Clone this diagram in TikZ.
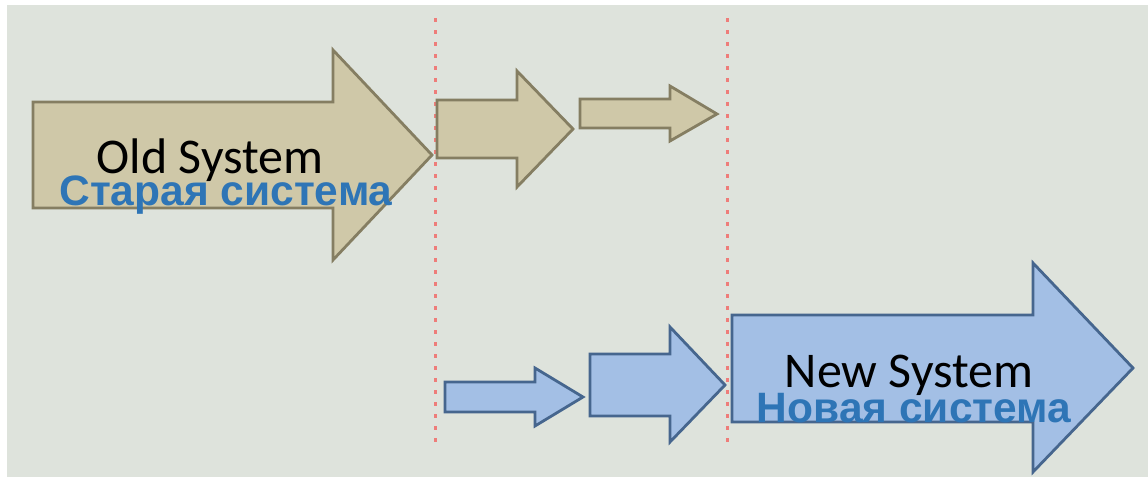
\documentclass[tikz,border=0pt]{standalone}
\usepackage{fontspec}
\setmainfont{Carlito}
\newfontfamily\rusfont{Liberation Sans}
\definecolor{bgc}{HTML}{DEE3DC}
\definecolor{tanfill}{HTML}{CFC8A8}
\definecolor{tanline}{HTML}{857E62}
\definecolor{bluefill}{HTML}{A3BFE5}
\definecolor{blueline}{HTML}{46668E}
\definecolor{rustext}{HTML}{2E75B6}
\definecolor{redline}{HTML}{EE7D7A}
\tikzset{
  oldarrow/.style={fill=tanfill,draw=tanline,line width=2.8pt,line join=miter},
  newarrow/.style={fill=bluefill,draw=blueline,line width=2.8pt,line join=miter},
  divider/.style={draw=redline,line width=3pt,dash pattern=on 4pt off 8pt},
  entext/.style={font=\fontsize{50}{50}\selectfont,text=black,inner sep=0pt,anchor=base},
  rutext/.style={font=\rusfont\bfseries\fontsize{42.5}{42.5}\selectfont,text=rustext,inner sep=0pt,anchor=base}
}
\begin{document}
\begin{tikzpicture}[x=1pt,y=-1pt]
\useasboundingbox (0,0) rectangle (1148,477);
\fill[white] (0,0) rectangle (1148,477);
\fill[bgc] (7,5) rectangle (1148,477);
% dividers
\coordinate (d1t) at (435,18);
\coordinate (d1b) at (435,447);
\coordinate (d2t) at (727,18);
\coordinate (d2b) at (727,447);
\draw[divider] (d1t) -- (d1b);
\draw[divider] (d2t) -- (d2b);
% old system arrows
\path[oldarrow] (33,102) -- (333,102) -- (333,50) -- (432,155) -- (333,260) -- (333,208) -- (33,208) -- cycle;
\path[oldarrow] (437,100) -- (517,100) -- (517,71) -- (573,129) -- (517,187) -- (517,158) -- (437,158) -- cycle;
\path[oldarrow] (580,99) -- (670,99) -- (670,86) -- (717,114) -- (670,141) -- (670,128) -- (580,128) -- cycle;
% new system arrows
\path[newarrow] (445,382) -- (535,382) -- (535,368) -- (583,397) -- (535,426) -- (535,412) -- (445,412) -- cycle;
\path[newarrow] (590,354) -- (670,354) -- (670,327) -- (725,385) -- (670,442) -- (670,416) -- (590,416) -- cycle;
\path[newarrow] (732,315) -- (1033,315) -- (1033,263) -- (1133,368) -- (1033,472) -- (1033,422) -- (732,422) -- cycle;
% texts
\node[entext] (old) at (210,173) {Old System};
\node[rutext] (oldru) at (226,205) {Старая система};
\node[entext] (new) at (909,387) {New System};
\node[rutext] (newru) at (914,422) {Новая система};
\end{tikzpicture}
\end{document}
